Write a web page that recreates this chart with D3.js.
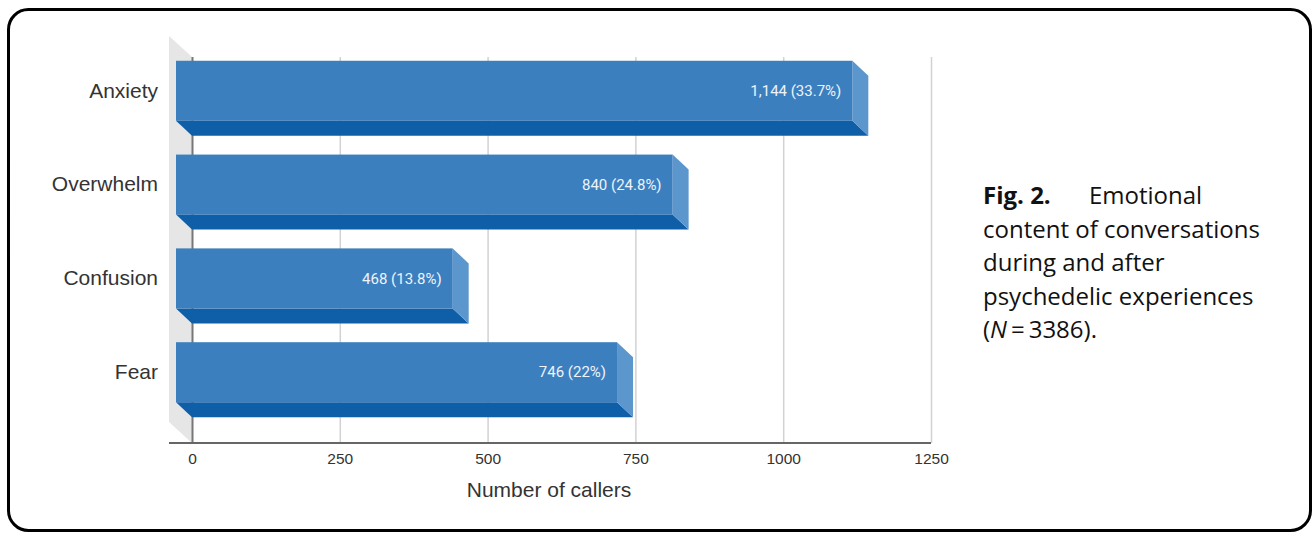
<!DOCTYPE html>
<html lang="en">
<head>
    <meta charset="UTF-8">
    <title>Emotional content of conversations</title>
    <script src="https://d3js.org/d3.v7.min.js"></script>
    <style>
        body { margin: 0; background: #fff; }
        .cat-label { font-family: "Liberation Sans", Arial, sans-serif; font-size: 21px; fill: #333; }
        .tick-label { font-family: "Liberation Sans", Arial, sans-serif; font-size: 15.5px; fill: #333; }
        .value-label { font-family: Roboto, sans-serif; font-size: 15px; fill: #eef3f9; }
        .caption { font-family: "Open Sans", sans-serif; font-size: 24px; fill: #111; }
    </style>
</head>
<body>
    <script>
        // values
        const categories = ["Anxiety", "Overwhelm", "Confusion", "Fear"];
        const callers = [1144, 840, 468, 746];
        const shares = ["33.7%", "24.8%", "13.8%", "22%"];
        const xTicks = [0, 250, 500, 750, 1000, 1250];

        const width = 1314, height = 537;
        const depthX = 16, depthY = 15;    // 3d offset of the bars
        const wallX = 23, wallY = 21;      // 3d offset of the side wall
        const plotTop = 57, plotBottom = 443;

        const rows = categories.map((c, i) => ({ cat: c, value: callers[i], share: shares[i] }));

        const svg = d3.select("body").append("svg")
            .attr("width", width)
            .attr("height", height);

        // frame
        svg.append("rect")
            .attr("x", 8.5).attr("y", 9.5)
            .attr("width", 1302).attr("height", 521)
            .attr("rx", 20)
            .attr("fill", "none")
            .attr("stroke", "#000")
            .attr("stroke-width", 3);

        const x = d3.scaleLinear().domain([0, 1250]).range([192, 931]);
        const y = d3.scaleBand().domain(categories)
            .range([57, 436]).paddingInner(0.36).paddingOuter(0.2);

        // side wall
        const x0 = x(0);
        svg.append("polygon")
            .attr("points", [[x0 - wallX, plotTop - wallY], [x0, plotTop], [x0, plotBottom], [x0 - wallX, plotBottom - wallY]].join(" "))
            .attr("fill", "#e6e6e6");

        // grid
        const grid = svg.append("g")
            .attr("transform", `translate(0,${plotBottom})`)
            .call(d3.axisBottom(x).tickValues(xTicks).tickSize(-(plotBottom - plotTop)).tickFormat(""));
        grid.select(".domain").remove();
        grid.selectAll(".tick line")
            .attr("stroke", d => d === 0 ? "#777" : "#d2d2d2")
            .attr("stroke-width", d => d === 0 ? 2 : 1.5);

        // baseline
        svg.append("line")
            .attr("x1", x0 - wallX).attr("x2", x(1250))
            .attr("y1", plotBottom).attr("y2", plotBottom)
            .attr("stroke", "#666").attr("stroke-width", 2);

        // tick labels
        const xAxis = svg.append("g")
            .attr("transform", `translate(0,${plotBottom})`)
            .call(d3.axisBottom(x).tickValues(xTicks).tickSize(0).tickPadding(10).tickFormat(d3.format("d")));
        xAxis.select(".domain").remove();
        xAxis.attr("font-size", null).attr("font-family", null);
        xAxis.selectAll("text").attr("class", "tick-label").attr("fill", null);

        svg.append("text")
            .attr("class", "cat-label")
            .attr("x", 549).attr("y", 497)
            .attr("text-anchor", "middle")
            .text("Number of callers");

        // bars
        const bars = svg.append("g").selectAll("g")
            .data(rows)
            .enter().append("g");

        bars.append("polygon")   // underside
            .attr("fill", "#0f5ea8")
            .attr("points", d => {
                const a = x(0), b = x(d.value), yb = y(d.cat) + y.bandwidth();
                return [[a - depthX, yb - depthY], [b - depthX, yb - depthY], [b, yb], [a, yb]].join(" ");
            });

        bars.append("polygon")   // right end
            .attr("fill", "#5b96cd")
            .attr("points", d => {
                const b = x(d.value), yt = y(d.cat), yb = yt + y.bandwidth();
                return [[b - depthX, yt - depthY], [b, yt], [b, yb], [b - depthX, yb - depthY]].join(" ");
            });

        bars.append("rect")      // front
            .attr("fill", "#3c7fbf")
            .attr("x", x(0) - depthX)
            .attr("y", d => y(d.cat) - depthY)
            .attr("width", d => x(d.value) - x(0))
            .attr("height", y.bandwidth());

        bars.append("text")
            .attr("class", "value-label")
            .attr("x", d => x(d.value) - depthX - 11)
            .attr("y", d => y(d.cat) - depthY + y.bandwidth() / 2)
            .attr("dy", "0.35em")
            .attr("text-anchor", "end")
            .text(d => `${d3.format(",")(d.value)} (${d.share})`);

        // category labels
        const yAxis = svg.append("g")
            .attr("transform", `translate(${x(0) - depthX},${-depthY})`)
            .call(d3.axisLeft(y).tickSize(0).tickPadding(18));
        yAxis.select(".domain").remove();
        yAxis.attr("font-size", null).attr("font-family", null);
        yAxis.selectAll("text").attr("class", "cat-label").attr("fill", null);

        // caption
        const cap = svg.append("text").attr("class", "caption");
        const capX = 983, capY = 204, lineH = 33.6;
        cap.append("tspan").attr("x", capX).attr("y", capY).attr("font-weight", "bold").text("Fig. 2.");
        cap.append("tspan").attr("x", 1089).attr("y", capY).text("Emotional");
        ["content of conversations", "during and after", "psychedelic experiences"].forEach((t, i) => {
            cap.append("tspan").attr("x", capX).attr("y", capY + lineH * (i + 1)).text(t);
        });
        cap.append("tspan").attr("x", capX).attr("y", capY + lineH * 4).text("(");
        cap.append("tspan").attr("font-style", "italic").text("N");
        cap.append("tspan").text("\u2009=\u20093386).");
    </script>
</body>
</html>
